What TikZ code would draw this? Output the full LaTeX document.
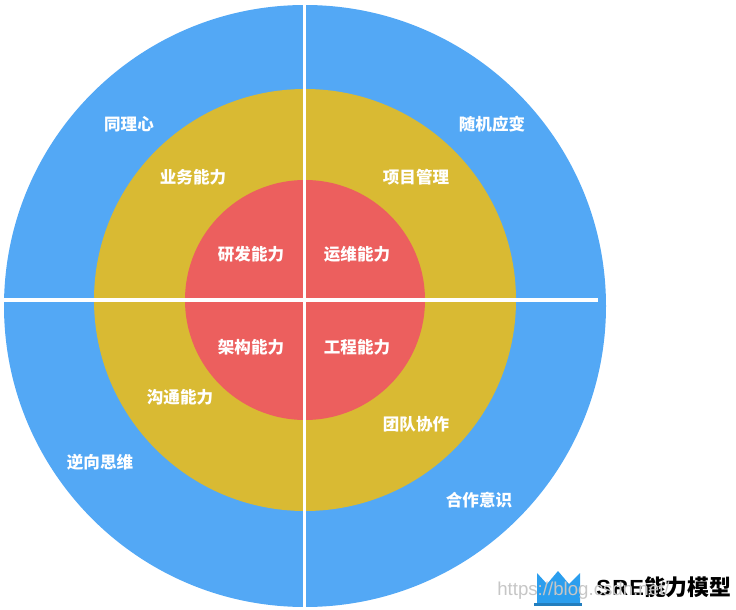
\documentclass[tikz,border=0pt]{standalone}
\usepackage{fontspec}
\setmainfont{Noto Sans CJK SC}
\newfontfamily\latinfont{Liberation Sans}
\usetikzlibrary{positioning}
\definecolor{ringblue}{HTML}{53A8F5}
\definecolor{ringyellow}{HTML}{D9BA33}
\definecolor{ringred}{HTML}{EC5F5E}
\definecolor{crownblue}{HTML}{2B9EEE}

\begin{document}
\begin{tikzpicture}[
  x=0.75pt, y=-0.75pt,
  ring/.style={circle, inner sep=0pt, outer sep=0pt},
  label/.style={text=white, font=\fontsize{12.4pt}{14pt}\selectfont\bfseries, inner sep=0pt},
  axis/.style={white, line width=2.4pt}
]
\useasboundingbox (0,0) rectangle (736,610);

% RINGS
\node[ring, fill=ringblue, minimum size=451.5pt] (outer) at (305,306) {};
\node[ring, fill=ringyellow, minimum size=316.5pt] (middle) at (305,300) {};
\node[ring, fill=ringred, minimum size=180pt] (inner) at (305,300) {};

% AXES
\coordinate (top) at (304.5,5);
\coordinate (bottom) at (304.5,608);
\coordinate (left) at (4,300);
\coordinate (right) at (598,300);
\draw[axis] (top) -- (bottom);
\draw[axis] (left) -- (right);

% LABELS
\node[label] (tongli) at (129,124) {同理心};
\node[label] (suiji) at (492,124) {随机应变};
\node[label] (yewu) at (193,177) {业务能力};
\node[label] (xiangmu) at (416,177) {项目管理};
\node[label] (yanfa) at (251,254) {研发能力};
\node[label] (yunwei) at (357,254) {运维能力};
\node[label] (jiagou) at (251,347) {架构能力};
\node[label] (gongcheng) at (357,347) {工程能力};
\node[label] (goutong) at (180,397) {沟通能力};
\node[label] (tuandui) at (416,424) {团队协作};
\node[label] (nixiang) at (100,462) {逆向思维};
\node[label] (hezuo) at (479,500) {合作意识};

% LOGO
\fill[crownblue] (537,603) -- (537,573) -- (547,584) -- (558,571) -- (569,584) -- (580,573) -- (580,603) -- cycle;
\fill[crownblue!80!black] (534,603) rectangle (582,606);
\node[inner sep=0pt, font=\fontsize{16.4pt}{18pt}\selectfont\bfseries, text=black] (title) at (664,587) {{\latinfont\addfontfeature{LetterSpace=6}SRE}能力模型};
\node[inner sep=0pt, font=\latinfont\fontsize{14pt}{16pt}\selectfont, text=gray!45, anchor=west] (mark) at (497,591) {https://blog.csdn.net/};

\end{tikzpicture}
\end{document}
